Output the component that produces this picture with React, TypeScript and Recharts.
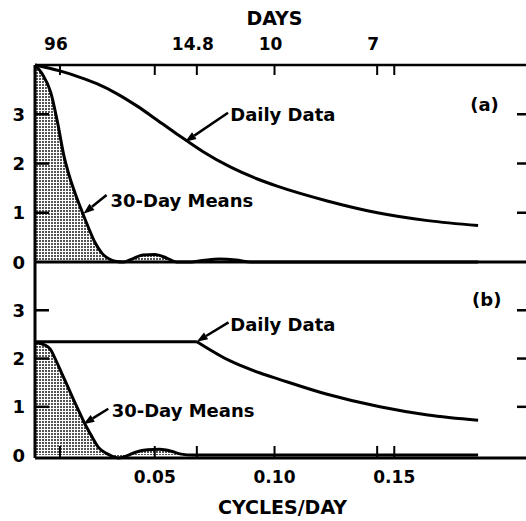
import React from "react";
import { ComposedChart, Line, Area, XAxis, YAxis, ReferenceLine, ReferenceDot, Label } from "recharts";

const FONT = "'DejaVu Sans', Verdana, sans-serif";

// top axis: period in days, bottom axis: cycles/day
const dayTicks = [96, 14.8, 10, 7];
const cycleTicks = [0.05, 0.1, 0.15];
const cycleLabels = ["0.05", "0.10", "0.15"];
const yTicks = [0, 1, 2, 3];
const innerTicks = [1, 2, 3];

// panel (a)
const dailyAFreq = [0, 0.0104, 0.0188, 0.0258, 0.0341, 0.0425, 0.0508, 0.0592, 0.0634, 0.0702, 0.0815, 0.0926, 0.1011, 0.122, 0.143, 0.164, 0.185];
const dailyAVal = [4.0, 3.88, 3.75, 3.62, 3.42, 3.17, 2.89, 2.6, 2.46, 2.24, 1.93, 1.69, 1.54, 1.24, 1.0, 0.84, 0.74];
const meanAFreq = [0, 0.003, 0.0066, 0.0093, 0.0121, 0.0145, 0.0167, 0.0195, 0.0223, 0.025, 0.0279, 0.031, 0.034, 0.037, 0.041, 0.045, 0.05, 0.055, 0.059, 0.064, 0.07, 0.077, 0.084, 0.09, 0.1, 0.185];
const meanAVal = [4.0, 3.82, 3.44, 2.86, 2.15, 1.72, 1.4, 1.04, 0.7, 0.4, 0.18, 0.06, 0.01, 0.0, 0.07, 0.14, 0.15, 0.08, 0.0, 0.0, 0.03, 0.06, 0.04, 0.0, 0.0, 0.0];

// panel (b)
const dailyBFreq = [0, 0.0676, 0.0815, 0.094, 0.102, 0.122, 0.144, 0.164, 0.185];
const dailyBVal = [2.35, 2.35, 1.95, 1.7, 1.57, 1.26, 1.0, 0.83, 0.72];
const meanBFreq = [0, 0.0042, 0.0063, 0.0084, 0.0104, 0.0134, 0.0159, 0.0188, 0.0209, 0.0238, 0.0263, 0.03, 0.0326, 0.0347, 0.038, 0.042, 0.047, 0.052, 0.057, 0.061, 0.066, 0.185];
const meanBVal = [2.33, 2.28, 2.2, 2.0, 1.78, 1.45, 1.17, 0.86, 0.64, 0.38, 0.17, 0.03, -0.03, -0.06, -0.02, 0.06, 0.11, 0.12, 0.08, 0.02, 0.0, 0.0];

const X_MAX = 0.205;

const rows = (f: number[], v: number[]) => f.map((x, i) => ({ f: x, v: v[i] }));

const allTicks = Array.from(new Set([...dayTicks.map((d) => 1 / d), ...cycleTicks])).sort((a, b) => a - b);

const txt = { fontFamily: FONT, fontWeight: "bold" as const, fill: "#000" };

const TopTick = ({ x, y, payload }: any) => {
  const d = dayTicks.find((d) => Math.abs(1 / d - payload.value) < 1e-9);
  return (
    <g>
      <line x1={x} y1={y} x2={x} y2={y + 10} stroke="#000" strokeWidth={2} />
      {d !== undefined && (
        <text x={x - 4} y={y - 15} textAnchor="middle" fontSize={17} {...txt}>
          {String(d)}
        </text>
      )}
    </g>
  );
};

const MidTick = ({ x, y }: any) => <line x1={x} y1={y - 12} x2={x} y2={y + 12} stroke="#000" strokeWidth={2} />;

const BottomTick = ({ x, y, payload }: any) => {
  const i = cycleTicks.findIndex((c) => Math.abs(c - payload.value) < 1e-9);
  return (
    <g>
      <line x1={x} y1={y} x2={x} y2={y - 12} stroke="#000" strokeWidth={2} />
      {i >= 0 && (
        <text x={x} y={y + 25} textAnchor="middle" fontSize={17} {...txt}>
          {cycleLabels[i]}
        </text>
      )}
    </g>
  );
};

// left labels plus the inward tick dash
const LeftTick = ({ x, y, payload }: any) => (
  <g>
    <text x={x - 10} y={y} dy={6.5} textAnchor="end" fontSize={18} {...txt}>
      {payload.value}
    </text>
    {payload.value > 0 ? <path d={`M${x},${y}H${x + 14}`} stroke="#000" strokeWidth={2.5} fill="none" /> : null}
  </g>
);

// short dash on the right edge, pointing inward
const rightDash = (p: any) => <line x1={p.cx - 9} y1={p.cy} x2={p.cx} y2={p.cy} stroke="#000" strokeWidth={2.5} />;

// arrow pointing from the label to the curve
const Arrow = (p: any) => {
  const { x1, y1, x2, y2 } = p;
  const len = Math.hypot(x2 - x1, y2 - y1);
  const ux = (x2 - x1) / len;
  const uy = (y2 - y1) / len;
  const bx = x2 - ux * 11;
  const by = y2 - uy * 11;
  const pts = `${x2},${y2} ${bx - uy * 4},${by + ux * 4} ${bx + uy * 4},${by - ux * 4}`;
  return (
    <g>
      <line x1={x1} y1={y1} x2={bx} y2={by} stroke="#000" strokeWidth={2.5} />
      <polygon points={pts} fill="#000" />
    </g>
  );
};

const textShape = (s: string) => (p: any) => (
  <text x={p.cx} y={p.cy} dy={6.5} fontSize={18} {...txt}>
    {s}
  </text>
);

// annotation anchors in data coordinates
const labelDailyA = [0.0815, 3.0];
const arrowDailyA = [[0.0806, 3.03], [0.0627, 2.44]];
const labelMeanA = [0.0315, 1.24];
const arrowMeanA = [[0.0299, 1.36], [0.0202, 0.98]];
const tagA = [0.1817, 3.19];
const labelDailyB = [0.0815, 2.71];
const arrowDailyB = [[0.0808, 2.75], [0.0675, 2.35]];
const labelMeanB = [0.032, 0.92];
const arrowMeanB = [[0.0306, 0.96], [0.0202, 0.64]];
const tagB = [0.1825, 3.22];

const seg = (a: number[][]) => a.map(([x, y]) => ({ x, y }));

const Stipple = () => (
  <defs>
    <pattern id="stipple" width="3" height="3" patternUnits="userSpaceOnUse">
      <rect x="0" y="0" width="2" height="2" fill="#555" />
    </pattern>
  </defs>
);

const axisLine = { stroke: "#000", strokeWidth: 3 };

function Panel({ which }: { which: "a" | "b" }) {
  const isA = which === "a";
  const xid = isA ? "top" : "bot";
  const daily = isA ? rows(dailyAFreq, dailyAVal) : rows(dailyBFreq, dailyBVal);
  const means = isA ? rows(meanAFreq, meanAVal) : rows(meanBFreq, meanBVal);
  const lDaily = isA ? labelDailyA : labelDailyB;
  const aDaily = isA ? arrowDailyA : arrowDailyB;
  const lMean = isA ? labelMeanA : labelMeanB;
  const aMean = isA ? arrowMeanA : arrowMeanB;
  const tag = isA ? tagA : tagB;
  const common = { xAxisId: xid, yAxisId: "l" };

  return (
    <ComposedChart width={526} height={isA ? 276 : 259} margin={{ top: 0, right: 0, bottom: 0, left: 0 }}>
      <Stipple />
      {isA ? (
        <XAxis xAxisId="top" orientation="top" type="number" dataKey="f" domain={[0, X_MAX]} ticks={allTicks} interval={0}
          height={65} tickSize={0} tickMargin={0} tickLine={false} axisLine={{ stroke: "#000", strokeWidth: 2.5 }} tick={<TopTick />}>
          <Label content={(p: any) => (
            <text x={p.viewBox.x + p.viewBox.width / 2 - 6} y={25} textAnchor="middle" fontSize={19} {...txt}>DAYS</text>
          )} />
        </XAxis>
      ) : null}
      {isA ? (
        <XAxis xAxisId="mid" orientation="bottom" type="number" dataKey="f" domain={[0, X_MAX]} ticks={allTicks} interval={0}
          height={14} tickSize={0} tickMargin={0} tickLine={false} axisLine={axisLine} tick={<MidTick />} />
      ) : (
        <XAxis xAxisId="bot" orientation="bottom" type="number" dataKey="f" domain={[0, X_MAX]} ticks={allTicks} interval={0}
          height={63} tickSize={0} tickMargin={0} tickLine={false} axisLine={axisLine} tick={<BottomTick />}>
          <Label content={(p: any) => (
            <text x={p.viewBox.x + p.viewBox.width / 2 + 2} y={p.viewBox.y + 56} textAnchor="middle" fontSize={19} {...txt}>CYCLES/DAY</text>
          )} />
        </XAxis>
      )}
      <YAxis yAxisId="l" type="number" domain={[0, 4]} ticks={yTicks} interval={0} width={35}
        tickSize={0} tickMargin={0} tickLine={false} axisLine={axisLine} tick={<LeftTick />} />

      <Area {...common} data={means} dataKey="v" type="monotone" stroke="#000" strokeWidth={3}
        fill="url(#stipple)" fillOpacity={1} isAnimationActive={false} />
      {isA ? (
        <Line {...common} data={daily} dataKey="v" type="monotone" stroke="#000" strokeWidth={3} dot={false} isAnimationActive={false} />
      ) : (
        <>
          <Line {...common} data={daily.slice(0, 2)} dataKey="v" type="linear" stroke="#000" strokeWidth={3} dot={false} isAnimationActive={false} />
          <Line {...common} data={daily.slice(1)} dataKey="v" type="monotone" stroke="#000" strokeWidth={3} dot={false} isAnimationActive={false} />
        </>
      )}

      {innerTicks.map((t) => (
        <ReferenceDot key={"r" + t} {...common} x={X_MAX} y={t} r={0} ifOverflow="visible" shape={rightDash} />
      ))}

      <ReferenceLine {...common} segment={seg(aDaily)} ifOverflow="visible" shape={Arrow} />
      <ReferenceLine {...common} segment={seg(aMean)} ifOverflow="visible" shape={Arrow} />
      <ReferenceDot {...common} x={lDaily[0]} y={lDaily[1]} r={0} ifOverflow="visible" shape={textShape("Daily Data")} />
      <ReferenceDot {...common} x={lMean[0]} y={lMean[1]} r={0} ifOverflow="visible" shape={textShape("30-Day Means")} />
      <ReferenceDot {...common} x={tag[0]} y={tag[1]} r={0} ifOverflow="visible" shape={textShape(isA ? "(a)" : "(b)")} />
    </ComposedChart>
  );
}

export default function App() {
  return (
    <div style={{ position: "absolute", left: 0, top: 0, width: 526, height: 521, background: "#fff" }}>
      <div style={{ position: "absolute", left: 0, top: 0 }}>
        <Panel which="a" />
      </div>
      <div style={{ position: "absolute", left: 0, top: 262 }}>
        <Panel which="b" />
      </div>
    </div>
  );
}
